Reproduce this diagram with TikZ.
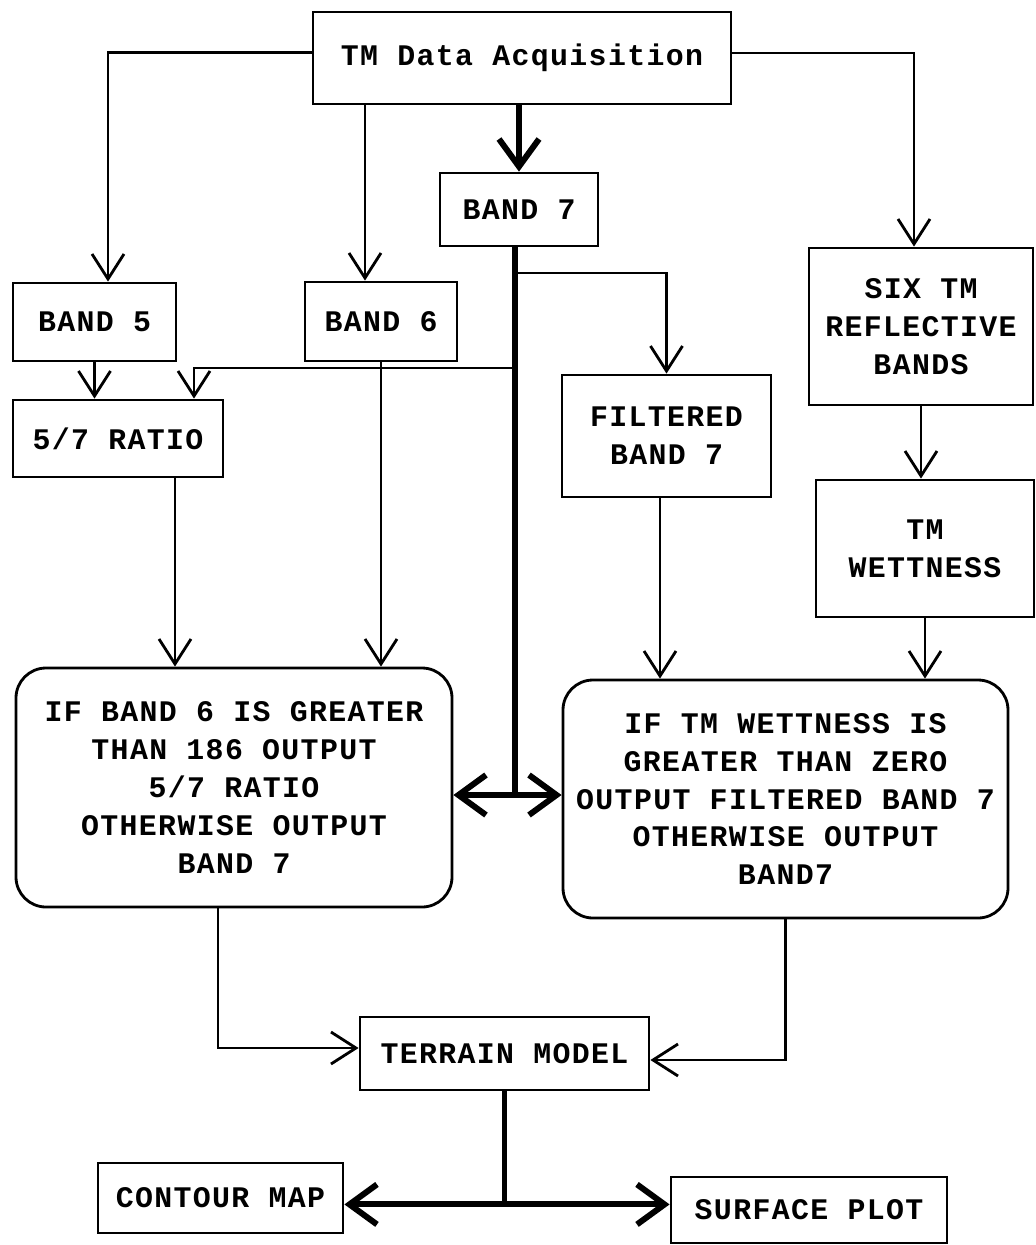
\documentclass[tikz,border=0pt]{standalone}
\usepackage{fontspec}
\newfontfamily\boxfont{Liberation Mono}[LetterSpace=4.5]
\usetikzlibrary{arrows.meta,calc}

\tikzset{
  >={Straight Barb[length=0.5cm,width=0.64cm]},
  box/.style={draw,line width=1.6pt,inner sep=0pt,align=center,
    font=\boxfont\bfseries\fontsize{17}{21.6}\selectfont},
  roundbox/.style={box,rounded corners=0.6cm},
  conn/.style={line width=1.6pt},
  spine/.style={line width=3.4pt},
  bigtip/.style={>={Straight Barb[length=0.55cm,width=0.8cm]}}
}

\begin{document}
\begin{tikzpicture}

  \useasboundingbox (0,0) rectangle (20.72,-24.9);

  \begin{scope}[every node/.style={box}]
    \node[minimum width=8.36cm,minimum height=1.84cm] (acq) at (10.44,-1.16) {TM Data Acquisition};
    \node[minimum width=3.16cm,minimum height=1.46cm] (b7) at (10.38,-4.19) {BAND 7};
    \node[minimum width=3.26cm,minimum height=1.56cm] (b5) at (1.89,-6.44) {BAND 5};
    \node[minimum width=3.04cm,minimum height=1.58cm] (b6) at (7.62,-6.43) {BAND 6};
    \node[minimum width=4.48cm,minimum height=3.14cm] (six) at (18.42,-6.53) {SIX TM\\REFLECTIVE\\BANDS};
    \node[minimum width=4.20cm,minimum height=1.54cm] (ratio) at (2.36,-8.77) {5/7 RATIO};
    \node[minimum width=4.18cm,minimum height=2.44cm] (filt) at (13.33,-8.72) {FILTERED\\BAND 7};
    \node[minimum width=4.36cm,minimum height=2.74cm] (wet) at (18.50,-10.97) {TM\\WETTNESS};
    \node[roundbox,minimum width=8.72cm,minimum height=4.78cm] (ifsix) at (4.68,-15.75)
      {IF BAND 6 IS GREATER\\THAN 186 OUTPUT\\5/7 RATIO\\OTHERWISE OUTPUT\\BAND 7};
    \node[roundbox,minimum width=8.90cm,minimum height=4.76cm] (ifwet) at (15.71,-15.98)
      {IF TM WETTNESS IS\\GREATER THAN ZERO\\OUTPUT FILTERED BAND 7\\OTHERWISE OUTPUT\\BAND7};
    \node[minimum width=5.78cm,minimum height=1.46cm] (terrain) at (10.09,-21.07) {TERRAIN MODEL};
    \node[minimum width=4.90cm,minimum height=1.40cm] (contour) at (4.41,-23.96) {CONTOUR MAP};
    \node[minimum width=5.52cm,minimum height=1.32cm] (surface) at (16.18,-24.20) {SURFACE PLOT};
  \end{scope}

  \coordinate (hub) at (10.30,-15.90);
  \coordinate (fork) at (10.30,-5.46);
  \coordinate (ratiofork) at (10.30,-7.36);
  \coordinate (b6in) at ($(b6.north)+(-0.32,0)$);
  \coordinate (ratioin) at ($(ratio.north)+(1.52,0)$);
  \coordinate (ratioout) at ($(ratio.south)+(1.14,0)$);
  \coordinate (filtout) at ($(filt.south)+(-0.13,0)$);
  \coordinate (sixout) at ($(ifsix.south)+(-0.32,0)$);
  \coordinate (split) at ($(terrain.south)+(0,-2.26)$);

  \begin{scope}[conn,->]
    \draw ($(acq.west)+(0,0.11)$) -| ($(b5.north)+(0.27,0)$);
    \draw (acq.south -| b6in) -- (b6in);
    \draw ($(acq.east)+(0,0.1)$) -| ($(six.north)+(-0.14,0)$);
    \draw (fork) -| (filt.north);
    \draw (ratiofork) -| (ratioin);
    \draw (b5.south) -- (b5.south |- ratio.north);
    \draw (ratioout) -- (ratioout |- ifsix.north);
    \draw (b6.south) -- (b6.south |- ifsix.north);
    \draw (filtout) -- (filtout |- ifwet.north);
    \draw (six.south) -- (six.south |- wet.north);
    \draw (wet.south) -- (wet.south |- ifwet.north);
    \draw (sixout) |- ($(terrain.west)+(0,0.11)$);
    \draw (ifwet.south) |- ($(terrain.east)+(0,-0.13)$);
  \end{scope}

  \begin{scope}[spine,bigtip]
    \draw[->] (acq.south -| b7.north) -- (b7.north);
    \draw (b7.south -| hub) -- (hub);
    \draw[<->] (ifsix.east |- hub) -- (ifwet.west |- hub);
    \draw (terrain.south) -- (split);
    \draw[<->] (contour.east |- split) -- (surface.west |- split);
  \end{scope}

\end{tikzpicture}
\end{document}
